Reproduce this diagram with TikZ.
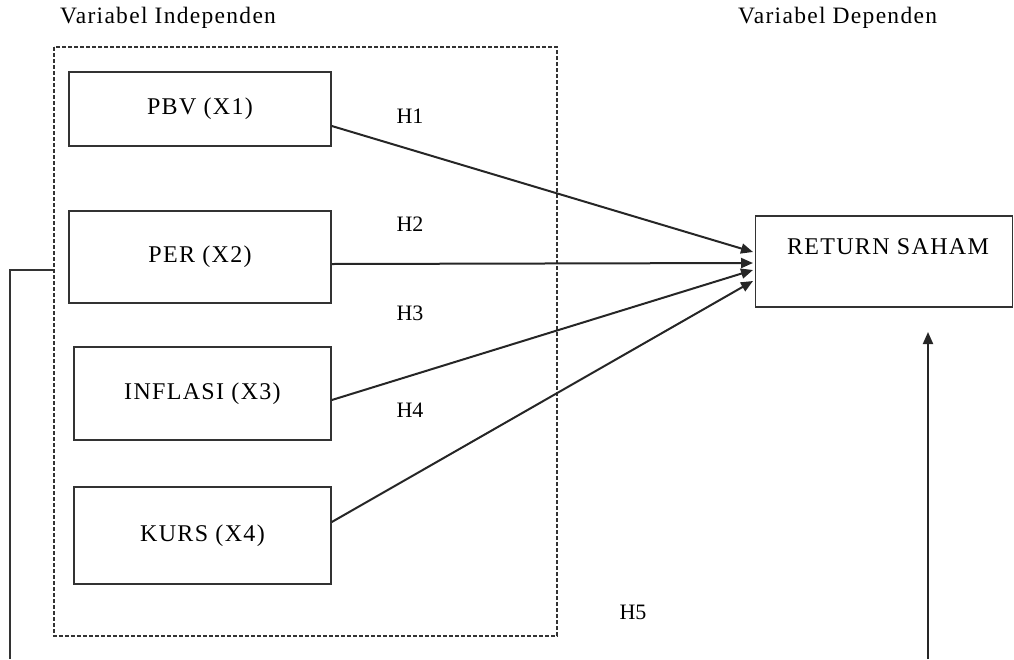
\documentclass[tikz,border=0pt]{standalone}
\usepackage{fontspec}
\setmainfont{Liberation Serif}
\newfontfamily\wide[LetterSpace=5.5]{Liberation Serif}
\usetikzlibrary{arrows.meta}
\tikzset{
  varbox/.style={draw=black!80, line width=1.6pt, inner sep=0pt, font=\wide\fontsize{24}{26}\selectfont},
  conn/.style={draw=black!85, line width=2pt, -{Triangle[length=12pt,width=10pt]}},
  hlab/.style={font=\fontsize{22}{24}\selectfont, inner sep=0pt},
  title/.style={font=\wide\fontsize{23.5}{26}\selectfont, inner sep=0pt, anchor=west}
}
\begin{document}
\begin{tikzpicture}[x=1pt,y=-1pt]
\useasboundingbox (0,0) rectangle (1014,659);
\node[title] (ti) at (60,18) {Variabel Independen};
\node[title] (td) at (738,18) {Variabel Dependen};
\draw[black!80, line width=1.4pt, dash pattern=on 4pt off 2pt] (54,47) rectangle (557,636);
\node[varbox, minimum width=262pt, minimum height=74pt] (x1) at (200,109) {PBV (X1)};
\node[varbox, minimum width=262pt, minimum height=92pt] (x2) at (200,257) {PER (X2)};
\node[varbox, minimum width=257pt, minimum height=93pt] (x3) at (202.5,393.5) {INFLASI (X3)};
\node[varbox, minimum width=257pt, minimum height=97pt] (x4) at (202.5,535.5) {KURS (X4)};
\node[draw=black!80, line width=1.6pt, minimum width=257pt, minimum height=91pt, inner sep=0pt] (y) at (884,261.5) {};
\node[font=\wide\fontsize{24}{26}\selectfont, inner sep=0pt] (yl) at (888,247) {RETURN SAHAM};
\coordinate (e1) at (753,252);
\coordinate (e2) at (753,263);
\coordinate (e3) at (753,270);
\coordinate (e4) at (753,281);
\draw[conn] (x1.east |- 0,126) -- (e1);
\draw[conn] (x2.east |- 0,264) -- (e2);
\draw[conn] (x3.east |- 0,400) -- (e3);
\draw[conn] (x4.east |- 0,522) -- (e4);
\node[hlab] (h1) at (410,116) {H1};
\node[hlab] (h2) at (410,224) {H2};
\node[hlab] (h3) at (410,313) {H3};
\node[hlab] (h4) at (410,410) {H4};
\node[hlab] (h5) at (633,612) {H5};
\coordinate (lb) at (54,270);
\coordinate (lc) at (10,270);
\coordinate (ld) at (10,659);
\draw[black!80, line width=2pt] (lb) -- (lc) -- (ld);
\coordinate (rb) at (928,659);
\coordinate (rt) at (928,332);
\draw[conn] (rb) -- (rt);
\end{tikzpicture}
\end{document}
